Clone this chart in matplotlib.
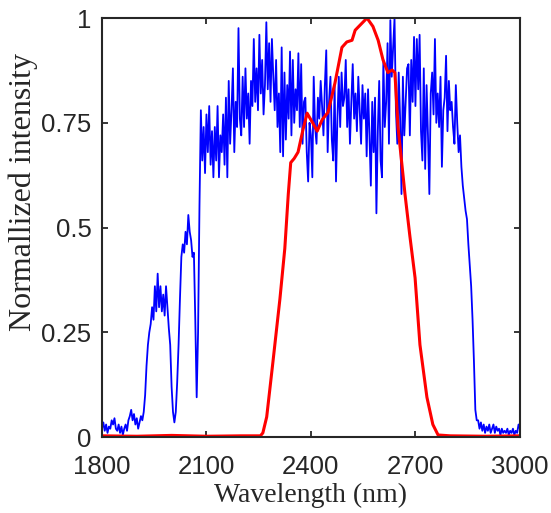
import numpy as np
import matplotlib
matplotlib.use("Agg")
import matplotlib.pyplot as plt

# measured spectrum (blue), sampled every 4 nm from 1800 to 3000 nm
blue_wl = np.arange(1800, 3001, 4)
blue_int = [
    0.02, 0.035, 0.015, 0.03, 0.01, 0.025, 0.02, 0.04, 0.03, 0.045,    # 1800
    0.02, 0.015, 0.03, 0.01, 0.025, 0.005, 0.02, 0.03, 0.015, 0.04,    # 1840
    0.05, 0.065, 0.04, 0.055, 0.03, 0.045, 0.02, 0.035, 0.05, 0.04,    # 1880
    0.06, 0.10, 0.17, 0.22, 0.25, 0.27, 0.31, 0.28, 0.36, 0.30,        # 1920
    0.39, 0.31, 0.36, 0.30, 0.34, 0.29, 0.36, 0.31, 0.26, 0.22,        # 1960
    0.12, 0.06, 0.035, 0.06, 0.13, 0.22, 0.33, 0.43, 0.46, 0.44,       # 2000
    0.49, 0.46, 0.53, 0.49, 0.47, 0.43, 0.44, 0.28, 0.095, 0.25,       # 2040
    0.55, 0.78, 0.66, 0.74, 0.63, 0.77, 0.68, 0.79, 0.65, 0.73,        # 2080
    0.62, 0.74, 0.66, 0.79, 0.62, 0.72, 0.68, 0.77, 0.65, 0.81,        # 2120
    0.62, 0.85, 0.70, 0.78, 0.88, 0.68, 0.80, 0.74, 0.976, 0.76,       # 2160
    0.72, 0.86, 0.74, 0.88, 0.76, 0.82, 0.70, 0.85, 0.79, 0.95,        # 2200
    0.80, 0.88, 0.78, 0.96, 0.82, 0.90, 0.77, 0.84, 0.99, 0.83,        # 2240
    0.94, 0.80, 0.95, 0.86, 0.78, 0.90, 0.74, 0.82, 0.68, 0.93,        # 2280
    0.67, 0.87, 0.71, 0.84, 0.76, 0.92, 0.72, 0.90, 0.75, 0.83,        # 2320
    0.78, 0.916, 0.74, 0.89, 0.70, 0.80, 0.81, 0.68, 0.61, 0.75,       # 2360
    0.72, 0.62, 0.86, 0.74, 0.70, 0.81, 0.76, 0.85, 0.79, 0.72,        # 2400
    0.84, 0.923, 0.68, 0.80, 0.86, 0.71, 0.66, 0.84, 0.61, 0.76,       # 2440
    0.86, 0.74, 0.87, 0.79, 0.81, 0.90, 0.74, 0.83, 0.70, 0.80,        # 2480
    0.89, 0.76, 0.82, 0.73, 0.86, 0.78, 0.70, 0.84, 0.76, 0.82,        # 2520
    0.67, 0.83, 0.72, 0.60, 0.80, 0.68, 0.81, 0.534, 0.73, 0.85,       # 2560
    0.66, 0.62, 0.90, 0.74, 0.80, 0.94, 0.70, 0.995, 0.86, 0.93,       # 2600
    1.0, 0.78, 0.70, 0.87, 0.76, 0.58, 0.86, 0.72, 0.80, 0.88,         # 2640
    0.89, 0.72, 0.90, 0.80, 0.955, 0.79, 0.95, 0.83, 0.96, 0.73,       # 2680
    0.66, 0.88, 0.64, 0.84, 0.72, 0.58, 0.82, 0.87, 0.77, 0.95,        # 2720
    0.75, 0.82, 0.74, 0.86, 0.645, 0.78, 0.81, 0.91, 0.73, 0.85,       # 2760
    0.78, 0.80, 0.74, 0.70, 0.84, 0.75, 0.68, 0.72, 0.645, 0.60,       # 2800
    0.57, 0.54, 0.52, 0.46, 0.41, 0.36, 0.28, 0.18, 0.065, 0.04,       # 2840
    0.04, 0.02, 0.035, 0.015, 0.03, 0.01, 0.025, 0.015, 0.03, 0.01,    # 2880
    0.02, 0.03, 0.01, 0.025, 0.015, 0.02, 0.005, 0.02, 0.01, 0.015,    # 2920
    0.01, 0.02, 0.005, 0.015, 0.01, 0.02, 0.005, 0.015, 0.01, 0.03,    # 2960
    0.02,                                                              # 3000
]

# filtered / simulated spectrum (red)
red_wl = [1800, 1900, 2000, 2100, 2200, 2255, 2262, 2273, 2291, 2311,
          2325, 2335, 2342, 2352, 2363, 2377, 2389, 2405, 2418, 2432,
          2449, 2469, 2489, 2503, 2518, 2527, 2541, 2561, 2578, 2593,
          2607, 2621, 2633, 2641, 2650, 2670, 2684, 2699, 2713, 2733,
          2750, 2765, 2800, 2900, 3000]
red_int = [0.003, 0.002, 0.004, 0.002, 0.003, 0.003, 0.01, 0.048, 0.18, 0.33,
           0.45, 0.58, 0.655, 0.665, 0.68, 0.733, 0.773, 0.75, 0.73, 0.757,
           0.775, 0.845, 0.93, 0.943, 0.947, 0.971, 0.983, 1.0, 0.98, 0.947,
           0.90, 0.87, 0.876, 0.87, 0.74, 0.58, 0.48, 0.38, 0.22, 0.095,
           0.03, 0.005, 0.003, 0.002, 0.003]

x_ticks = [1800, 2100, 2400, 2700, 3000]
y_ticks = [0, 0.25, 0.5, 0.75, 1]
y_tick_labels = ["0", "0.25", "0.5", "0.75", "1"]

dark = "#262626"

fig = plt.figure(figsize=(5.51, 5.13), dpi=100)
ax = fig.add_axes([0.185, 0.148, 0.7586, 0.8168])

ax.plot(blue_wl, blue_int, color="#0000ff", linewidth=1.3)
ax.plot(red_wl, red_int, color="#ff0000", linewidth=2.2)

ax.set_xlim(1800, 3000)
ax.set_ylim(0, 1)
ax.set_xticks(x_ticks)
ax.set_yticks(y_ticks)
ax.set_yticklabels(y_tick_labels)

ax.tick_params(direction="in", top=True, right=True, length=4.2, width=1.3,
               color=dark, labelcolor=dark, labelsize=18.5)
ax.tick_params(axis="x", pad=13)
ax.tick_params(axis="y", pad=7.5)
for lab in ax.get_xticklabels() + ax.get_yticklabels():
    lab.set_family("Liberation Sans")

for sp in ax.spines.values():
    sp.set_linewidth(1.5)
    sp.set_color(dark)

ax.set_xlabel("Wavelength (nm)", family="Liberation Serif", fontsize=20,
              color=dark, labelpad=3)
ax.set_ylabel("Normallized intensity", family="Liberation Serif", fontsize=23,
              color=dark)
ax.yaxis.set_label_coords(-0.152, 0.585)

fig.savefig("out.png", dpi=100)
